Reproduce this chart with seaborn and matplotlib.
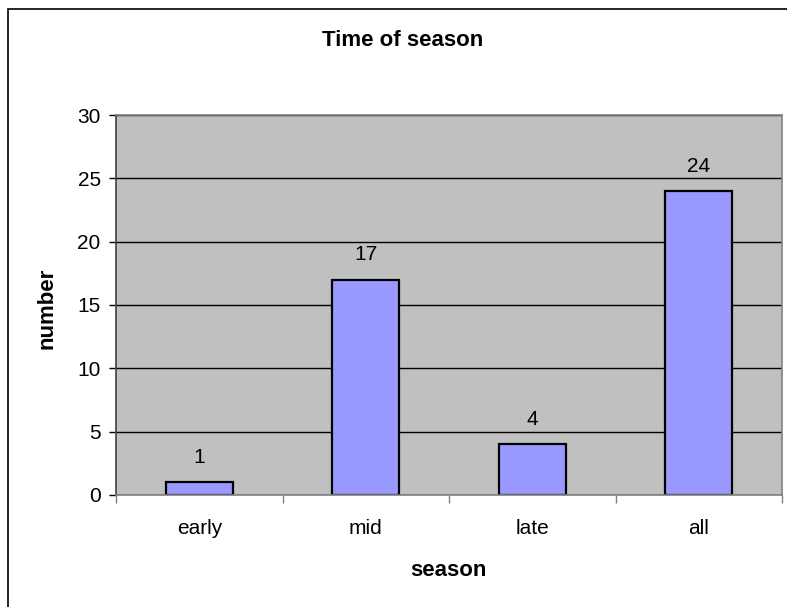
import matplotlib
matplotlib.use("Agg")
import matplotlib.pyplot as plt
import seaborn as sns
import pandas as pd
from matplotlib.patches import Rectangle

# Counts per time of season
seasons = ["early", "mid", "late", "all"]
counts = [1, 17, 4, 24]
y_ticks = [0, 5, 10, 15, 20, 25, 30]

sns.set_theme(style="white")
plt.rcParams["font.family"] = ["Liberation Sans", "DejaVu Sans"]
plt.rcParams["text.color"] = "black"
plt.rcParams["xtick.color"] = "black"
plt.rcParams["ytick.color"] = "black"

W, H = 787, 607
fig = plt.figure(figsize=(W / 100, H / 100), dpi=100)
fig.patch.set_facecolor("white")

# Plot area in pixel coordinates
left, right, top, bottom = 116, 782, 115, 495
ax = fig.add_axes([left / W, (H - bottom) / H, (right - left) / W, (bottom - top) / H])
ax.set_facecolor("#C0C0C0")

df = pd.DataFrame({"season": seasons, "number": counts})
sns.barplot(data=df, x="season", y="number", color="#9999FF", saturation=1,
            edgecolor="black", linewidth=1.6, width=0.4, ax=ax)
for container in ax.containers:
    ax.bar_label(container, labels=[str(v) for v in counts], padding=11,
                 fontsize=15, color="black")

ax.set_ylim(0, 30)
ax.set_xlim(-0.5, len(seasons) - 0.5)
ax.set_yticks(y_ticks)
ax.set_yticklabels([str(t) for t in y_ticks], fontsize=15)
ax.tick_params(axis="y", direction="out", length=5, width=1, color="black",
               pad=6, left=True, labelcolor="black")
ax.tick_params(axis="x", which="major", length=0, pad=17, labelsize=15,
               labelcolor="black")
ax.set_xticks([i - 0.5 for i in range(len(seasons) + 1)], minor=True)
ax.tick_params(axis="x", which="minor", direction="out", length=6, width=1,
               color="#808080", bottom=True)

ax.yaxis.grid(True, color="black", linewidth=1)
ax.xaxis.grid(False)
ax.set_axisbelow(True)

for side in ["top", "right", "bottom"]:
    ax.spines[side].set_color("#808080")
    ax.spines[side].set_linewidth(1.2)
ax.spines["left"].set_color("#404040")
ax.spines["left"].set_linewidth(1.2)

ax.set_xlabel("")
ax.set_ylabel("")

fig.text(403 / W, 1 - 41 / H, "Time of season", ha="center", va="center",
         fontsize=16, fontweight="bold", color="black")
fig.text(448 / W, 1 - 570 / H, "season", ha="center", va="center",
         fontsize=16, fontweight="bold", color="black")
fig.text(47 / W, 1 - 308 / H, "number", ha="center", va="center",
         fontsize=16, fontweight="bold", rotation=90, color="black")

# Chart frame
fig.patches.append(Rectangle((8 / W, -0.05), 1.0, 1 - 9 / H + 0.05,
                             transform=fig.transFigure, fill=False,
                             edgecolor="black", linewidth=1.2))

fig.savefig("out.png", dpi=100)
